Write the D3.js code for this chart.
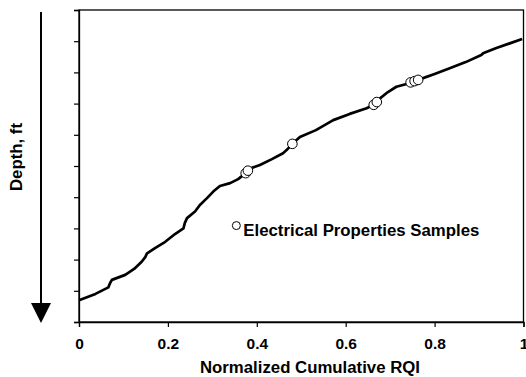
<!DOCTYPE html>
<html>
<head>
<meta charset="utf-8">
<script src="https://cdn.jsdelivr.net/npm/d3@7"></script>
<style>
  body { margin: 0; background: #fff; }
  text { font-family: Arial, "Liberation Sans", sans-serif; font-weight: bold; }
</style>
</head>
<body>
<div id="chart"></div>
<script>
// normalized cumulative RQI vs. relative depth position (0 = bottom, 10 = top)
var rqi = [0, 0.037, 0.066, 0.070, 0.074, 0.104, 0.124, 0.141, 0.149, 0.153, 0.171, 0.194, 0.216, 0.235, 0.238, 0.243,
  0.261, 0.272, 0.288, 0.302, 0.317, 0.340, 0.358, 0.375, 0.389, 0.407, 0.434, 0.459, 0.467, 0.480, 0.497, 0.533,
  0.572, 0.609, 0.647, 0.663, 0.673, 0.695, 0.714, 0.737, 0.763, 0.800, 0.834, 0.870, 0.905, 0.909, 0.939, 0.969, 0.997];
var depthPos = [0.70, 0.90, 1.11, 1.25, 1.35, 1.51, 1.70, 1.93, 2.08, 2.20, 2.37, 2.57, 2.82, 3.00, 3.17, 3.33,
  3.54, 3.75, 3.97, 4.18, 4.36, 4.45, 4.58, 4.77, 4.94, 5.03, 5.22, 5.41, 5.51, 5.71, 5.93, 6.15,
  6.47, 6.67, 6.85, 6.96, 7.12, 7.37, 7.54, 7.63, 7.76, 7.95, 8.13, 8.33, 8.56, 8.61, 8.78, 8.93, 9.07];

// electrical properties samples
var sampleRqi = [0.375, 0.380, 0.480, 0.663, 0.670, 0.746, 0.755, 0.763];
var sampleDepth = [4.77, 4.85, 5.71, 6.96, 7.05, 7.68, 7.72, 7.76];

var xTicks = [0, 0.2, 0.4, 0.6, 0.8, 1];
var yTicks = [0, 1, 2, 3, 4, 5, 6, 7, 8, 9, 10];

var legendLabel = "Electrical Properties Samples";
var legendPos = [0.354, 3.09];

var W = 526, H = 377;
var margin = {top: 10, right: 2.5, bottom: 55, left: 79};
var width = W - margin.left - margin.right,
    height = H - margin.top - margin.bottom;

var svg = d3.select("#chart").append("svg")
    .attr("width", W)
    .attr("height", H);

var g = svg.append("g")
    .attr("transform", "translate(" + margin.left + "," + margin.top + ")");

var x = d3.scaleLinear().domain([0, 1]).range([0, width]);
var y = d3.scaleLinear().domain([0, 10]).range([height, 0]);

// frame
g.append("rect")
    .attr("width", width)
    .attr("height", height)
    .attr("fill", "none")
    .attr("stroke", "#000")
    .attr("stroke-width", 1.3);

// x axis
var xAxis = g.append("g")
    .attr("transform", "translate(0," + height + ")")
    .call(d3.axisBottom(x).tickValues(xTicks).tickSize(5).tickPadding(11)
      .tickFormat(function(d) { return d === 0 || d === 1 ? d3.format("d")(d) : d3.format(".1f")(d); }));
xAxis.select(".domain").attr("stroke-width", 1.3);
xAxis.selectAll(".tick line").attr("stroke-width", 1.2);
xAxis.selectAll("text")
    .attr("font-size", "15.5px")
    .attr("font-family", "Arial, 'Liberation Sans', sans-serif")
    .attr("font-weight", "bold")
    .attr("fill", "#000");

// y axis (no labels)
var yAxis = g.append("g")
    .call(d3.axisLeft(y).tickValues(yTicks).tickSize(5).tickFormat(""));
yAxis.select(".domain").attr("stroke-width", 1.3);
yAxis.selectAll(".tick line").attr("stroke-width", 1.2);

// axis titles
svg.append("text")
    .attr("x", 310)
    .attr("y", 373)
    .attr("text-anchor", "middle")
    .attr("font-size", "16.8px")
    .text("Normalized Cumulative RQI");

svg.append("text")
    .attr("transform", "translate(22,157) rotate(-90)")
    .attr("text-anchor", "middle")
    .attr("font-size", "16.8px")
    .text("Depth, ft");

// depth arrow
svg.append("line")
    .attr("x1", 41).attr("x2", 41)
    .attr("y1", 12).attr("y2", 304)
    .attr("stroke", "#000")
    .attr("stroke-width", 2);
svg.append("path")
    .attr("d", "M31,303 L51,303 L41,323 Z")
    .attr("fill", "#000");

// curve
var line = d3.line()
    .x(function(d, i) { return x(rqi[i]); })
    .y(function(d, i) { return y(depthPos[i]); });

g.append("path")
    .datum(rqi)
    .attr("d", line)
    .attr("fill", "none")
    .attr("stroke", "#000")
    .attr("stroke-width", 2.7)
    .attr("stroke-linejoin", "round");

// samples
g.selectAll("circle.sample")
    .data(sampleRqi)
    .enter()
    .append("circle")
      .attr("class", "sample")
      .attr("cx", function(d) { return x(d); })
      .attr("cy", function(d, i) { return y(sampleDepth[i]); })
      .attr("r", 4.8)
      .attr("fill", "#fff")
      .attr("stroke", "#000")
      .attr("stroke-width", 1);

// legend
g.append("circle")
    .attr("cx", x(legendPos[0]))
    .attr("cy", y(legendPos[1]))
    .attr("r", 4)
    .attr("fill", "#fff")
    .attr("stroke", "#000")
    .attr("stroke-width", 1);
g.append("text")
    .attr("x", x(legendPos[0]) + 7)
    .attr("y", y(legendPos[1]) + 10.5)
    .attr("font-size", "16.8px")
    .text(legendLabel);
</script>
</body>
</html>
